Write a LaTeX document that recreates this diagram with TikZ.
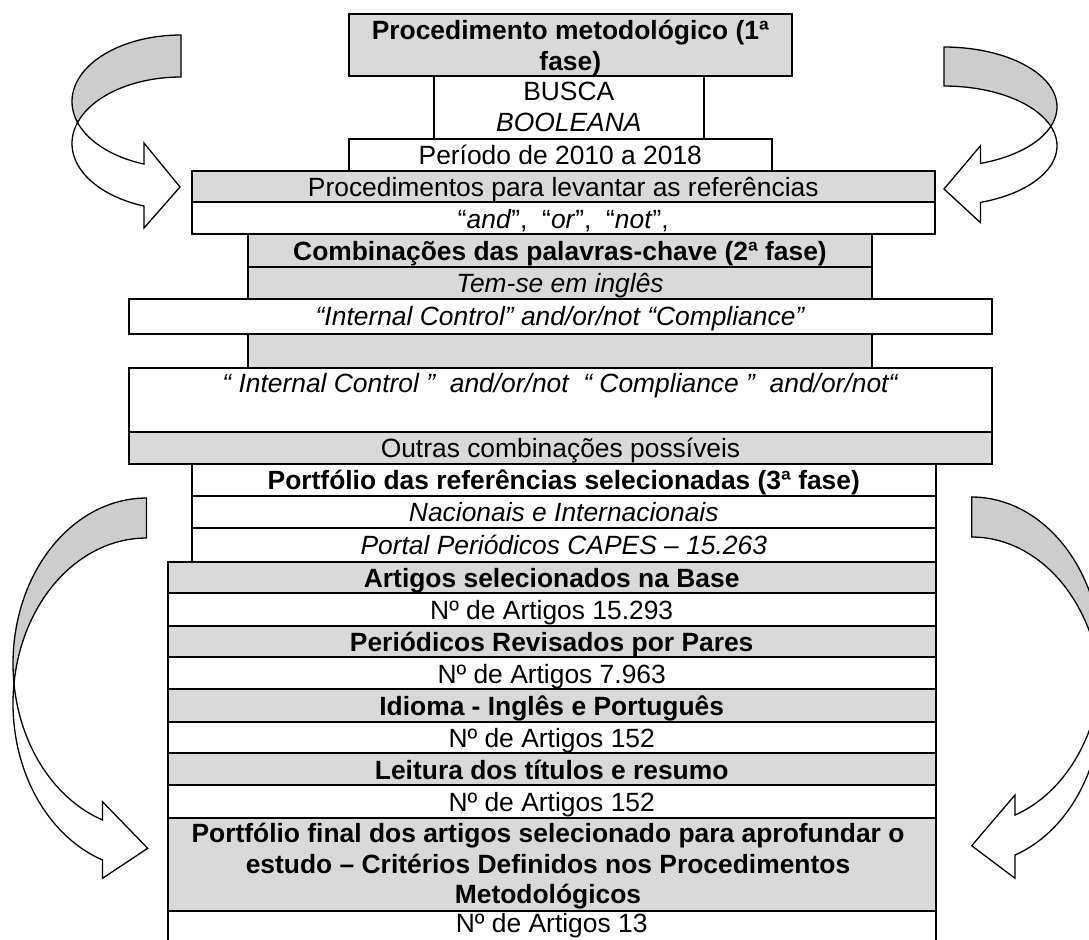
\documentclass[tikz,border=0pt]{standalone}
\usepackage{fontspec}
\setmainfont{Liberation Sans}
\usetikzlibrary{fit}
\definecolor{boxgray}{HTML}{D9D9D9}
\definecolor{arrowgray}{HTML}{CDCDCD}
\tikzset{
  cell/.style={draw=black, line width=1pt, inner sep=0pt, outer sep=0pt, rectangle},
  graycell/.style={cell, fill=boxgray},
  whitecell/.style={cell, fill=white},
  txt/.style={anchor=base, inner sep=0pt, outer sep=0pt, font=\fontsize{13.2}{15.25}\selectfont},
  arrowback/.style={draw=black, line width=0.65pt, fill=arrowgray},
  arrowfront/.style={draw=black, line width=0.65pt, fill=white},
}
% curved band arrow: #1 rx, #2 ry, #3 thickness, #4 head base x, #5 head top y, #6 head bottom y, #7 tip x, #8 tip y
\newcommand\curvedband[8]{%
  \pgfmathsetmacro\cbA{asin(#3/(2*#2))}%
  \pgfmathsetmacro\cbB{acos((#4)/(#1))}%
  \pgfmathsetmacro\cbC{180-\cbA}%
  \pgfmathsetmacro\cbD{180+\cbA}%
  \filldraw[arrowback] plot[domain=270:\cbC, samples=50, variable=\t] ({#1*cos(\t)},{#2*sin(\t)})
     -- plot[domain=\cbD:270, samples=50, variable=\t] ({#1*cos(\t)},{#3+#2*sin(\t)}) -- cycle;
  \filldraw[arrowfront] plot[domain=\cbC:\cbB, samples=50, variable=\t] ({#1*cos(\t)},{#2*sin(\t)})
     -- (#4,#5) -- (#7,#8) -- (#4,#6)
     -- plot[domain=\cbB:\cbD, samples=50, variable=\t] ({#1*cos(\t)},{#3+#2*sin(\t)}) -- cycle;
}
\begin{document}
\begin{tikzpicture}[x=0.5pt, y=-0.5pt]
\useasboundingbox (0,0) rectangle (1089,939);
\clip (0,0) rectangle (1089,939);

% curved arrows
\begin{scope}[shift={(181,101.5)}]
  \curvedband{109}{66.5}{42}{-37}{41.5}{126.5}{-1}{85.5}
\end{scope}
\begin{scope}[shift={(944,106.8)}, xscale=-1]
  \curvedband{113}{59.8}{39}{-36.5}{38.9}{115.9}{0}{82.2}
\end{scope}
\begin{scope}[shift={(146.5,663.6)}]
  \curvedband{133.5}{165.6}{40}{-44}{138.1}{214.7}{1.2}{184.7}
\end{scope}
\begin{scope}[shift={(971.7,660.7)}, xscale=-1]
  \curvedband{130}{163.7}{40}{-43.3}{134.3}{217.6}{0}{185}
\end{scope}

% boxes
\node[graycell,  fit={(348.7,14) (792,75.7)}] (b1) {};
\node[whitecell, fit={(433.7,75.7) (704,138.7)}] (b2) {};
\node[whitecell, fit={(348.7,138.7) (772,170.7)}] (b3) {};
\node[graycell,  fit={(191.7,170.7) (935,202.3)}] (b4) {};
\node[whitecell, fit={(191.7,202.3) (935,234.3)}] (b5) {};
\node[graycell,  fit={(247.7,234.3) (872.3,266.7)}] (b6) {};
\node[graycell,  fit={(247.7,266.7) (872.3,298.7)}] (b7) {};
\node[whitecell, fit={(128.7,298.7) (992.3,334)}] (b8) {};
\node[graycell,  fit={(247.7,334) (872.3,367.7)}] (b9) {};
\node[whitecell, fit={(128.7,367.7) (992.3,432)}] (b10) {};
\node[graycell,  fit={(128.7,432) (992.3,463.7)}] (b11) {};
\node[whitecell, fit={(192,463.7) (935.7,495.7)}] (b12) {};
\node[whitecell, fit={(192,495.7) (935.7,527.7)}] (b13) {};
\node[whitecell, fit={(192,527.7) (935.7,561.7)}] (b14) {};
\node[graycell,  fit={(167.7,561.7) (935.7,593.3)}] (b15) {};
\node[whitecell, fit={(167.7,593.3) (935.7,625.7)}] (b16) {};
\node[graycell,  fit={(167.7,625.7) (935.7,657.3)}] (b17) {};
\node[whitecell, fit={(167.7,657.3) (935.7,689.3)}] (b18) {};
\node[graycell,  fit={(167.7,689.3) (935.7,721.7)}] (b19) {};
\node[whitecell, fit={(167.7,721.7) (935.7,753.3)}] (b20) {};
\node[graycell,  fit={(167.7,753.3) (935.7,785)}] (b21) {};
\node[whitecell, fit={(167.7,785) (935.7,817.7)}] (b22) {};
\node[graycell,  fit={(167.7,817.7) (935.7,910.7)}] (b23) {};
\node[whitecell, fit={(167.7,910.7) (935.7,960)}] (b24) {};

% texts
\node[txt] (t1a) at (570.3,39.5) {\textbf{Procedimento metodológico (1ª}};
\node[txt] (t1b) at (570.3,70) {\textbf{fase)}};
\node[txt] (t2a) at (568.8,100.5) {BUSCA};
\node[txt] (t2b) at (568.8,131) {\textit{BOOLEANA}};
\node[txt] (t3) at (560.3,164.5) {Período de 2010 a 2018};
\node[txt] (t4) at (563.3,196.7) {Procedimentos para levantar as referências};
\node[txt] (t5) at (563.3,228.5) {“\textit{and}”,\ \ “\textit{or}”,\ \ “\textit{not}”,};
\node[txt] (t6) at (560,260.5) {\textbf{Combinações das palavras-chave (2ª fase)}};
\node[txt] (t7) at (560,292.5) {\textit{Tem-se em inglês}};
\node[txt] (t8) at (560.5,325.5) {\textit{“Internal Control” and/or/not “Compliance”}};
\node[txt] (t10) at (560.5,392) {\textit{“ Internal Control ”\ \ and/or/not\ \ “ Compliance ”\ \ and/or/not“}};
\node[txt] (t11) at (560.5,457) {Outras combinações possíveis};
\node[txt] (t12) at (563.8,489.7) {\textbf{Portfólio das referências selecionadas (3ª fase)}};
\node[txt] (t13) at (563.8,521.7) {\textit{Nacionais e Internacionais}};
\node[txt] (t14) at (563.8,554.5) {\textit{Portal Periódicos CAPES – 15.263}};
\node[txt] (t15) at (551.7,587.5) {\textbf{Artigos selecionados na Base}};
\node[txt] (t16) at (551.7,619.5) {Nº de Artigos 15.293};
\node[txt] (t17) at (551.7,651.5) {\textbf{Periódicos Revisados por Pares}};
\node[txt] (t18) at (551.7,683.3) {Nº de Artigos 7.963};
\node[txt] (t19) at (551.7,715.5) {\textbf{Idioma - Inglês e Português}};
\node[txt] (t20) at (551.7,747.3) {Nº de Artigos 152};
\node[txt] (t21) at (551.7,779) {\textbf{Leitura dos títulos e resumo}};
\node[txt] (t22) at (551.7,811.5) {Nº de Artigos 152};
\node[txt] (t23a) at (548,842.5) {\textbf{Portfólio final dos artigos selecionado para aprofundar o}};
\node[txt] (t23b) at (548,873) {\textbf{estudo – Critérios Definidos nos Procedimentos}};
\node[txt] (t23c) at (548,903.5) {\textbf{Metodológicos}};
\node[txt] (t24) at (551.7,932) {Nº de Artigos 13};
\end{tikzpicture}
\end{document}
